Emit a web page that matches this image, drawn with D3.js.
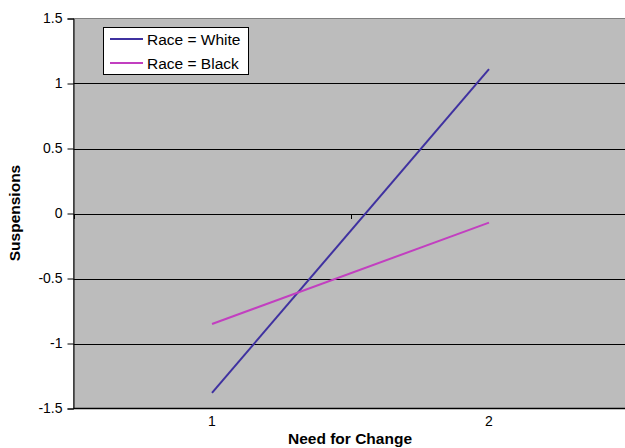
<!DOCTYPE html>
<html><head><meta charset="utf-8">
<script src="https://cdn.jsdelivr.net/npm/d3@7"></script>
<style>body{margin:0;background:#fff}svg{display:block;font-family:"Liberation Sans",Arial,sans-serif}</style>
</head><body><svg id="c" width="625" height="448"></svg>
<script>
const categories = ["1", "2"];
const seriesNames = ["Race = White", "Race = Black"];
const whiteValues = [-1.38, 1.11];
const blackValues = [-0.85, -0.07];
const yTicks = [-1.5, -1, -0.5, 0, 0.5, 1, 1.5];
const colors = ["#3f31a0", "#c23fc0"];

const svg = d3.select("#c");
const L = 73.5, R = 627.5, T = 18.5, B = 408.5;
const x = d3.scaleBand().domain(categories).range([L, R]).paddingInner(0).paddingOuter(0);
const y = d3.scaleLinear().domain([-1.5, 1.5]).range([B, T]);

svg.append("rect").attr("x", L).attr("y", T).attr("width", R - L).attr("height", B - T)
  .attr("fill", "#bcbcbc").attr("stroke", "#808080").attr("stroke-width", 1);

// gridlines
svg.append("g").selectAll("line").data(yTicks.filter(d => d > -1.5 && d < 1.5)).join("line")
  .attr("x1", L).attr("x2", R).attr("y1", d => Math.round(y(d)) + 0.5).attr("y2", d => Math.round(y(d)) + 0.5)
  .attr("stroke", "#000").attr("stroke-width", 1);

// y axis
const yAxis = d3.axisLeft(y).tickValues(yTicks).tickSize(6).tickPadding(5).tickFormat(d => String(d));
const gy = svg.append("g").attr("transform", `translate(${L},0)`).call(yAxis);
gy.select(".domain").attr("stroke", "#000");
gy.selectAll("text").attr("font-size", 14).attr("fill", "#000").attr("font-family", "Liberation Sans, Arial, sans-serif");

// bottom axis line
svg.append("line").attr("x1", L).attr("x2", R).attr("y1", B).attr("y2", B).attr("stroke", "#000").attr("stroke-width", 1.5);

// category ticks on zero line (between categories)
const boundaries = categories.map(c => x(c)).concat([x(categories[categories.length - 1]) + x.bandwidth()]);
svg.append("g").selectAll("line").data(boundaries).join("line")
  .attr("x1", d => Math.round(d) + 0.5).attr("x2", d => Math.round(d) + 0.5)
  .attr("y1", Math.round(y(0))).attr("y2", Math.round(y(0)) + 5).attr("stroke", "#000");

// category labels
svg.append("g").selectAll("text").data(categories).join("text")
  .attr("x", d => x(d) + x.bandwidth() / 2).attr("y", 426)
  .attr("text-anchor", "middle").attr("font-size", 14).text(d => d);

// lines
const data = [whiteValues, blackValues];
const line = d3.line().x((d, i) => x(categories[i]) + x.bandwidth() / 2).y(d => y(d));
svg.append("g").selectAll("path").data(data).join("path")
  .attr("d", line).attr("fill", "none").attr("stroke", (d, i) => colors[i]).attr("stroke-width", 2);

// legend
const lg = svg.append("g");
lg.append("rect").attr("x", 103.5).attr("y", 27.5).attr("width", 145).attr("height", 47)
  .attr("fill", "#fff").attr("stroke", "#000").attr("stroke-width", 1);
seriesNames.forEach((n, i) => {
  const yy = 39 + i * 24;
  lg.append("line").attr("x1", 110).attr("x2", 143).attr("y1", yy).attr("y2", yy)
    .attr("stroke", colors[i]).attr("stroke-width", 2);
  lg.append("text").attr("x", 147).attr("y", yy + 5.5).attr("font-size", 15.5).text(n);
});

// axis titles
svg.append("text").attr("x", 350).attr("y", 444).attr("text-anchor", "middle")
  .attr("font-size", 15.5).attr("font-weight", "bold").text("Need for Change");
svg.append("text").attr("transform", "translate(20,213) rotate(-90)").attr("text-anchor", "middle")
  .attr("font-size", 15.5).attr("font-weight", "bold").text("Suspensions");
</script></body></html>
